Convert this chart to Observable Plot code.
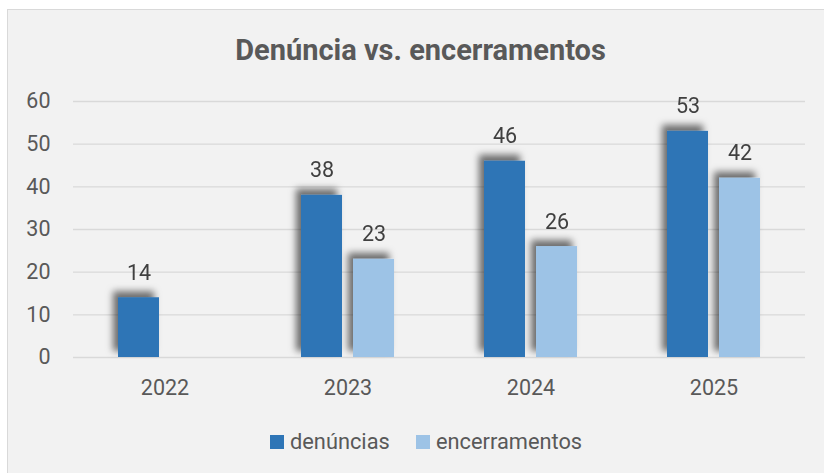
<!DOCTYPE html>
<html>
<head>
<meta charset="utf-8">
<script src="https://cdn.jsdelivr.net/npm/d3@7"></script>
<script src="https://cdn.jsdelivr.net/npm/@observablehq/plot@0.6"></script>
<style>
  html, body { margin: 0; padding: 0; background: #ffffff; width: 824px; height: 473px; overflow: hidden; }
  #frame { position: absolute; left: 7px; top: 9px; width: 840px; height: 490px; background: #f2f2f2; border: 1px solid #d9d9d9; box-sizing: border-box; }
  #title { position: absolute; left: 0; top: 35.6px; width: 841px; text-align: center; font-family: Roboto, sans-serif; font-weight: 700; font-size: 29px; line-height: 29px; color: #595959; white-space: nowrap; }
  #chart { position: absolute; left: 0; top: 0; }
  .sw { position: absolute; width: 14px; height: 14px; top: 435px; }
  .lt { position: absolute; top: 431px; font-family: Roboto, sans-serif; font-size: 21.8px; line-height: 21.8px; color: #595959; white-space: nowrap; }
</style>
</head>
<body>
<div id="frame"></div>
<div id="title">Denúncia vs. encerramentos</div>
<div id="chart"></div>
<div class="sw" style="left:270px;background:#2E75B6"></div>
<div class="lt" style="left:290px">denúncias</div>
<div class="sw" style="left:416px;background:#9DC3E6"></div>
<div class="lt" style="left:436px">encerramentos</div>
<script>
const years = ["2022", "2023", "2024", "2025"];
const seriesNames = ["denúncias", "encerramentos"];
const denuncias = [14, 38, 46, 53];
const encerramentos = [null, 23, 26, 42];
const yTicks = [0, 10, 20, 30, 40, 50, 60];
const colors = ["#2E75B6", "#9DC3E6"];

const rows = [];
years.forEach((y, i) => {
  rows.push({year: y, series: seriesNames[0], value: denuncias[i]});
  rows.push({year: y, series: seriesNames[1], value: encerramentos[i]});
});
const present = rows.filter(d => d.value != null);

const chart = Plot.plot({
  width: 824,
  height: 410,
  marginLeft: 71,
  marginRight: 18,
  marginTop: 101,
  marginBottom: 53,
  style: {fontFamily: "Roboto, sans-serif", fontSize: "21.5px", color: "#595959", background: "transparent"},
  fx: {domain: years, padding: 0, axis: "bottom", label: null, tickSize: 0, tickPadding: 22},
  x: {domain: seriesNames, axis: null, paddingInner: 0.204, paddingOuter: 0.857},
  y: {domain: [0, 60], ticks: yTicks, tickSize: 0, tickPadding: 23, label: null},
  color: {domain: seriesNames, range: colors},
  marks: [
    Plot.ruleY(yTicks, {stroke: "#d9d9d9", strokeWidth: 1.4}),
    Plot.barY(present, {fx: "year", x: "series", y: "value", fill: "series"}),
    Plot.text(present, {fx: "year", x: "series", y: "value", text: d => String(d.value), lineAnchor: "bottom", dy: -18, fill: "#404040", fontSize: 21.5})
  ]
});

const svg = d3.select(chart);
const defs = svg.insert("defs", ":first-child");
const f = defs.append("filter").attr("id", "shadow").attr("x", "-50%").attr("y", "-50%").attr("width", "200%").attr("height", "200%");
f.append("feDropShadow").attr("dx", -5).attr("dy", -6).attr("stdDeviation", 3.6).attr("flood-color", "#000").attr("flood-opacity", 0.55);
svg.selectAll("g[aria-label='bar']").attr("filter", "url(#shadow)");
svg.selectAll("g[aria-label='y-axis tick label'] text, g[aria-label='fx-axis tick label'] text").attr("fill", "#595959");

document.getElementById("chart").appendChild(chart);
</script>
</body>
</html>
